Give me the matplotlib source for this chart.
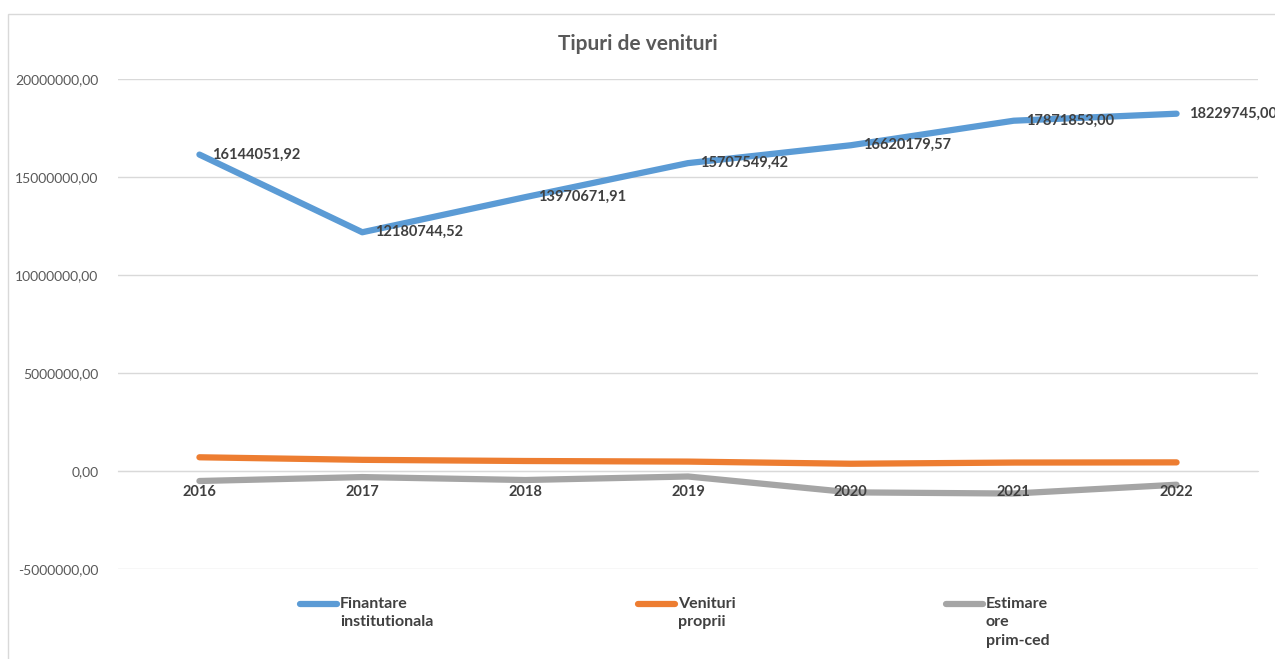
import matplotlib.pyplot as plt
from matplotlib.lines import Line2D
from matplotlib.patches import Rectangle
from matplotlib.ticker import FuncFormatter

plt.rcParams['font.family'] = ['Lato', 'DejaVu Sans']

ani = ['2016', '2017', '2018', '2019', '2020', '2021', '2022']
finantare = [16144051.92, 12180744.52, 13970671.91, 15707549.42, 16620179.57, 17871853.00, 18229745.00]
venituri_proprii = [700000, 570000, 510000, 480000, 370000, 430000, 440000]
estimare_ore = [-510000, -310000, -460000, -280000, -1090000, -1150000, -700000]

serii = [
    ('Finantare\ninstitutionala', finantare, '#5B9BD5'),
    ('Venituri\nproprii', venituri_proprii, '#ED7D31'),
    ('Estimare\nore\nprim-ced', estimare_ore, '#A5A5A5'),
]

fig = plt.figure(figsize=(12.75, 6.59), dpi=100)
ax = fig.add_axes([118 / 1275, 1 - 569 / 659, 1140 / 1275, 490 / 659])

x = list(range(len(ani)))
for nume, val, cul in serii:
    ax.plot(x, val, color=cul, lw=4.5, solid_capstyle='round', solid_joinstyle='round', zorder=3)

# etichete de date pentru finantare
for i, v in enumerate(finantare):
    ax.annotate(f'{v:.2f}'.replace('.', ','), (i, v), xytext=(9, 0), textcoords='offset points',
                ha='left', va='center', fontsize=10.5, fontweight='bold', color='#404040',
                zorder=4, annotation_clip=False)

ax.set_xlim(-0.5, len(ani) - 0.5)
ax.set_ylim(-5000000, 20000000)
ax.set_yticks(range(-5000000, 20000001, 5000000))
ax.yaxis.set_major_formatter(FuncFormatter(lambda v, p: f'{v:.2f}'.replace('.', ',')))
ax.set_xticks(x)
ax.set_xticklabels(ani)

ax.grid(axis='y', color='#D9D9D9', lw=1, zorder=0)
for s in ['top', 'right', 'left']:
    ax.spines[s].set_visible(False)
ax.spines['bottom'].set_position(('data', 0))
ax.spines['bottom'].set_color('#D9D9D9')
ax.spines['bottom'].set_zorder(1)
ax.xaxis.set_zorder(5)
ax.tick_params(axis='y', length=0, pad=14, labelsize=10, labelcolor='#595959')
ax.tick_params(axis='x', length=0, pad=10, labelsize=10.5, labelcolor='#404040')
for t in ax.get_xticklabels():
    t.set_fontweight('bold')

fig.text(0.5, 1 - 44 / 659, 'Tipuri de venituri', ha='center', va='center',
         fontsize=15, fontweight='bold', color='#595959')

# legenda
leg_x = [300, 638, 946]
for (nume, val, cul), lx in zip(serii, leg_x):
    yy = 1 - 604 / 659
    fig.add_artist(Line2D([lx / 1275, (lx + 37) / 1275], [yy, yy], color=cul, lw=4.5,
                          solid_capstyle='round', transform=fig.transFigure))
    fig.text((lx + 40) / 1275, 1 - 597 / 659, nume, ha='left', va='top', fontsize=11.5,
             fontweight='bold', color='#404040', linespacing=1.4)

# chenarul graficului
fig.add_artist(Rectangle((8 / 1275, -0.1), 1.2, 1.1 - 14 / 659, transform=fig.transFigure,
                         fill=False, edgecolor='#D9D9D9', lw=1))

fig.savefig('out.png', dpi=100)
